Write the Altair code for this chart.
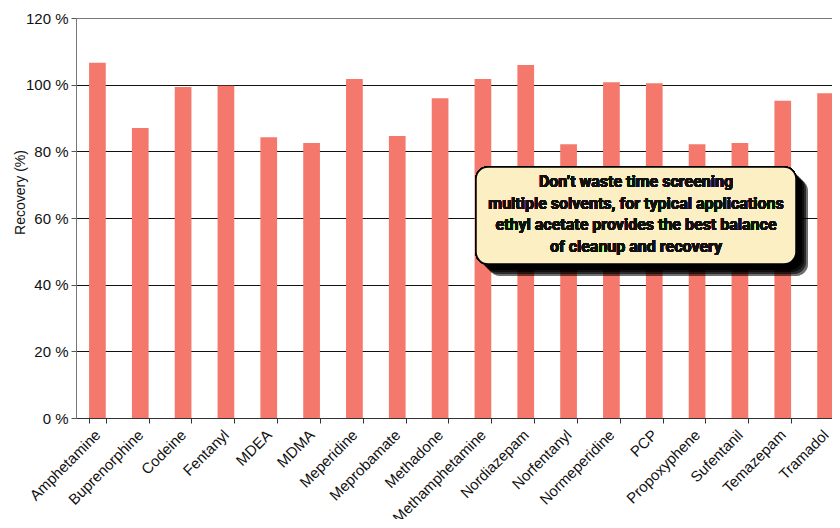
import altair as alt
import pandas as pd

drugs = ["Amphetamine", "Buprenorphine", "Codeine", "Fentanyl", "MDEA", "MDMA",
         "Meperidine", "Meprobamate", "Methadone", "Methamphetamine", "Nordiazepam",
         "Norfentanyl", "Normeperidine", "PCP", "Propoxyphene", "Sufentanil",
         "Temazepam", "Tramadol"]
recovery = [106.6, 87.0, 99.3, 99.7, 84.2, 82.5, 101.7, 84.6, 95.9, 101.7, 105.9,
            82.1, 100.7, 100.4, 82.1, 82.5, 95.2, 97.4]
y_ticks = [0, 20, 40, 60, 80, 100, 120]
note_lines = ["Don\u2019t waste time screening",
              "multiple solvents, for typical applications",
              "ethyl acetate provides the best balance",
              "of cleanup and recovery"]

df = pd.DataFrame({"drug": drugs, "recovery": recovery})

FONT = "Liberation Sans"

bars = alt.Chart(df).mark_bar(color="#f4786b").encode(
    x=alt.X("drug:N", sort=drugs, title=None,
            scale=alt.Scale(range=[0, 771], paddingInner=0.61, paddingOuter=0.305),
            axis=alt.Axis(labelAngle=-45, labelFontSize=15, labelFont=FONT,
                          labelColor="#111", labelAlign="right",
                          labelBaseline="middle", tickBand="extent", tickSize=5,
                          tickColor="#333", domainColor="#333", labelPadding=9,
                          grid=False)),
    y=alt.Y("recovery:Q", title="Recovery (%)",
            scale=alt.Scale(domain=[0, 120], nice=False),
            axis=alt.Axis(values=y_ticks, labelExpr="datum.value + ' %'",
                          labelFontSize=15, labelFont=FONT, labelColor="#111",
                          tickSize=5, tickColor="#555", domainColor="#777",
                          labelPadding=3, grid=True,
                          gridColor={"expr": "datum.value == 120 ? '#777' : '#111'"},
                          gridWidth=1,
                          titleFont=FONT, titleFontSize=14, titleFontWeight="normal",
                          titleColor="#111", titleAngle=-90, titleX=-56, titleY=174,
                          titleAlign="center", titleBaseline="middle")),
)

shadow_layers = []
for off in [2, 4, 6, 8, 10, 12]:
    shadow_layers.append(
        alt.Chart(df).mark_rect(cornerRadius=12, fill="#000000", opacity=0.045).encode(
            x=alt.value(400 + off), x2=alt.value(720 + off),
            y=alt.value(149 + off), y2=alt.value(246 + off))
    )

box = alt.Chart(df).mark_rect(cornerRadius=12, fill="#fdefc4", stroke="#000000",
                              strokeWidth=1.5).encode(
    x=alt.value(400), x2=alt.value(720), y=alt.value(149), y2=alt.value(246))

note = alt.Chart(df).mark_text(
    text=note_lines, font="Roboto, Liberation Sans", fontWeight="bold", fontSize=16,
    lineHeight=21.7, align="center", baseline="middle", color="#111"
).encode(x=alt.value(560), y=alt.value(164))

chart = alt.layer(bars, *shadow_layers, box, note).properties(
    width=756, height=400,
    autosize=alt.AutoSizeParams(type="none"),
    padding={"left": 68, "top": 10, "right": 0, "bottom": 101},
).configure_view(stroke="transparent")

chart.save("out.html", embed_options={"renderer": "svg", "actions": False})
